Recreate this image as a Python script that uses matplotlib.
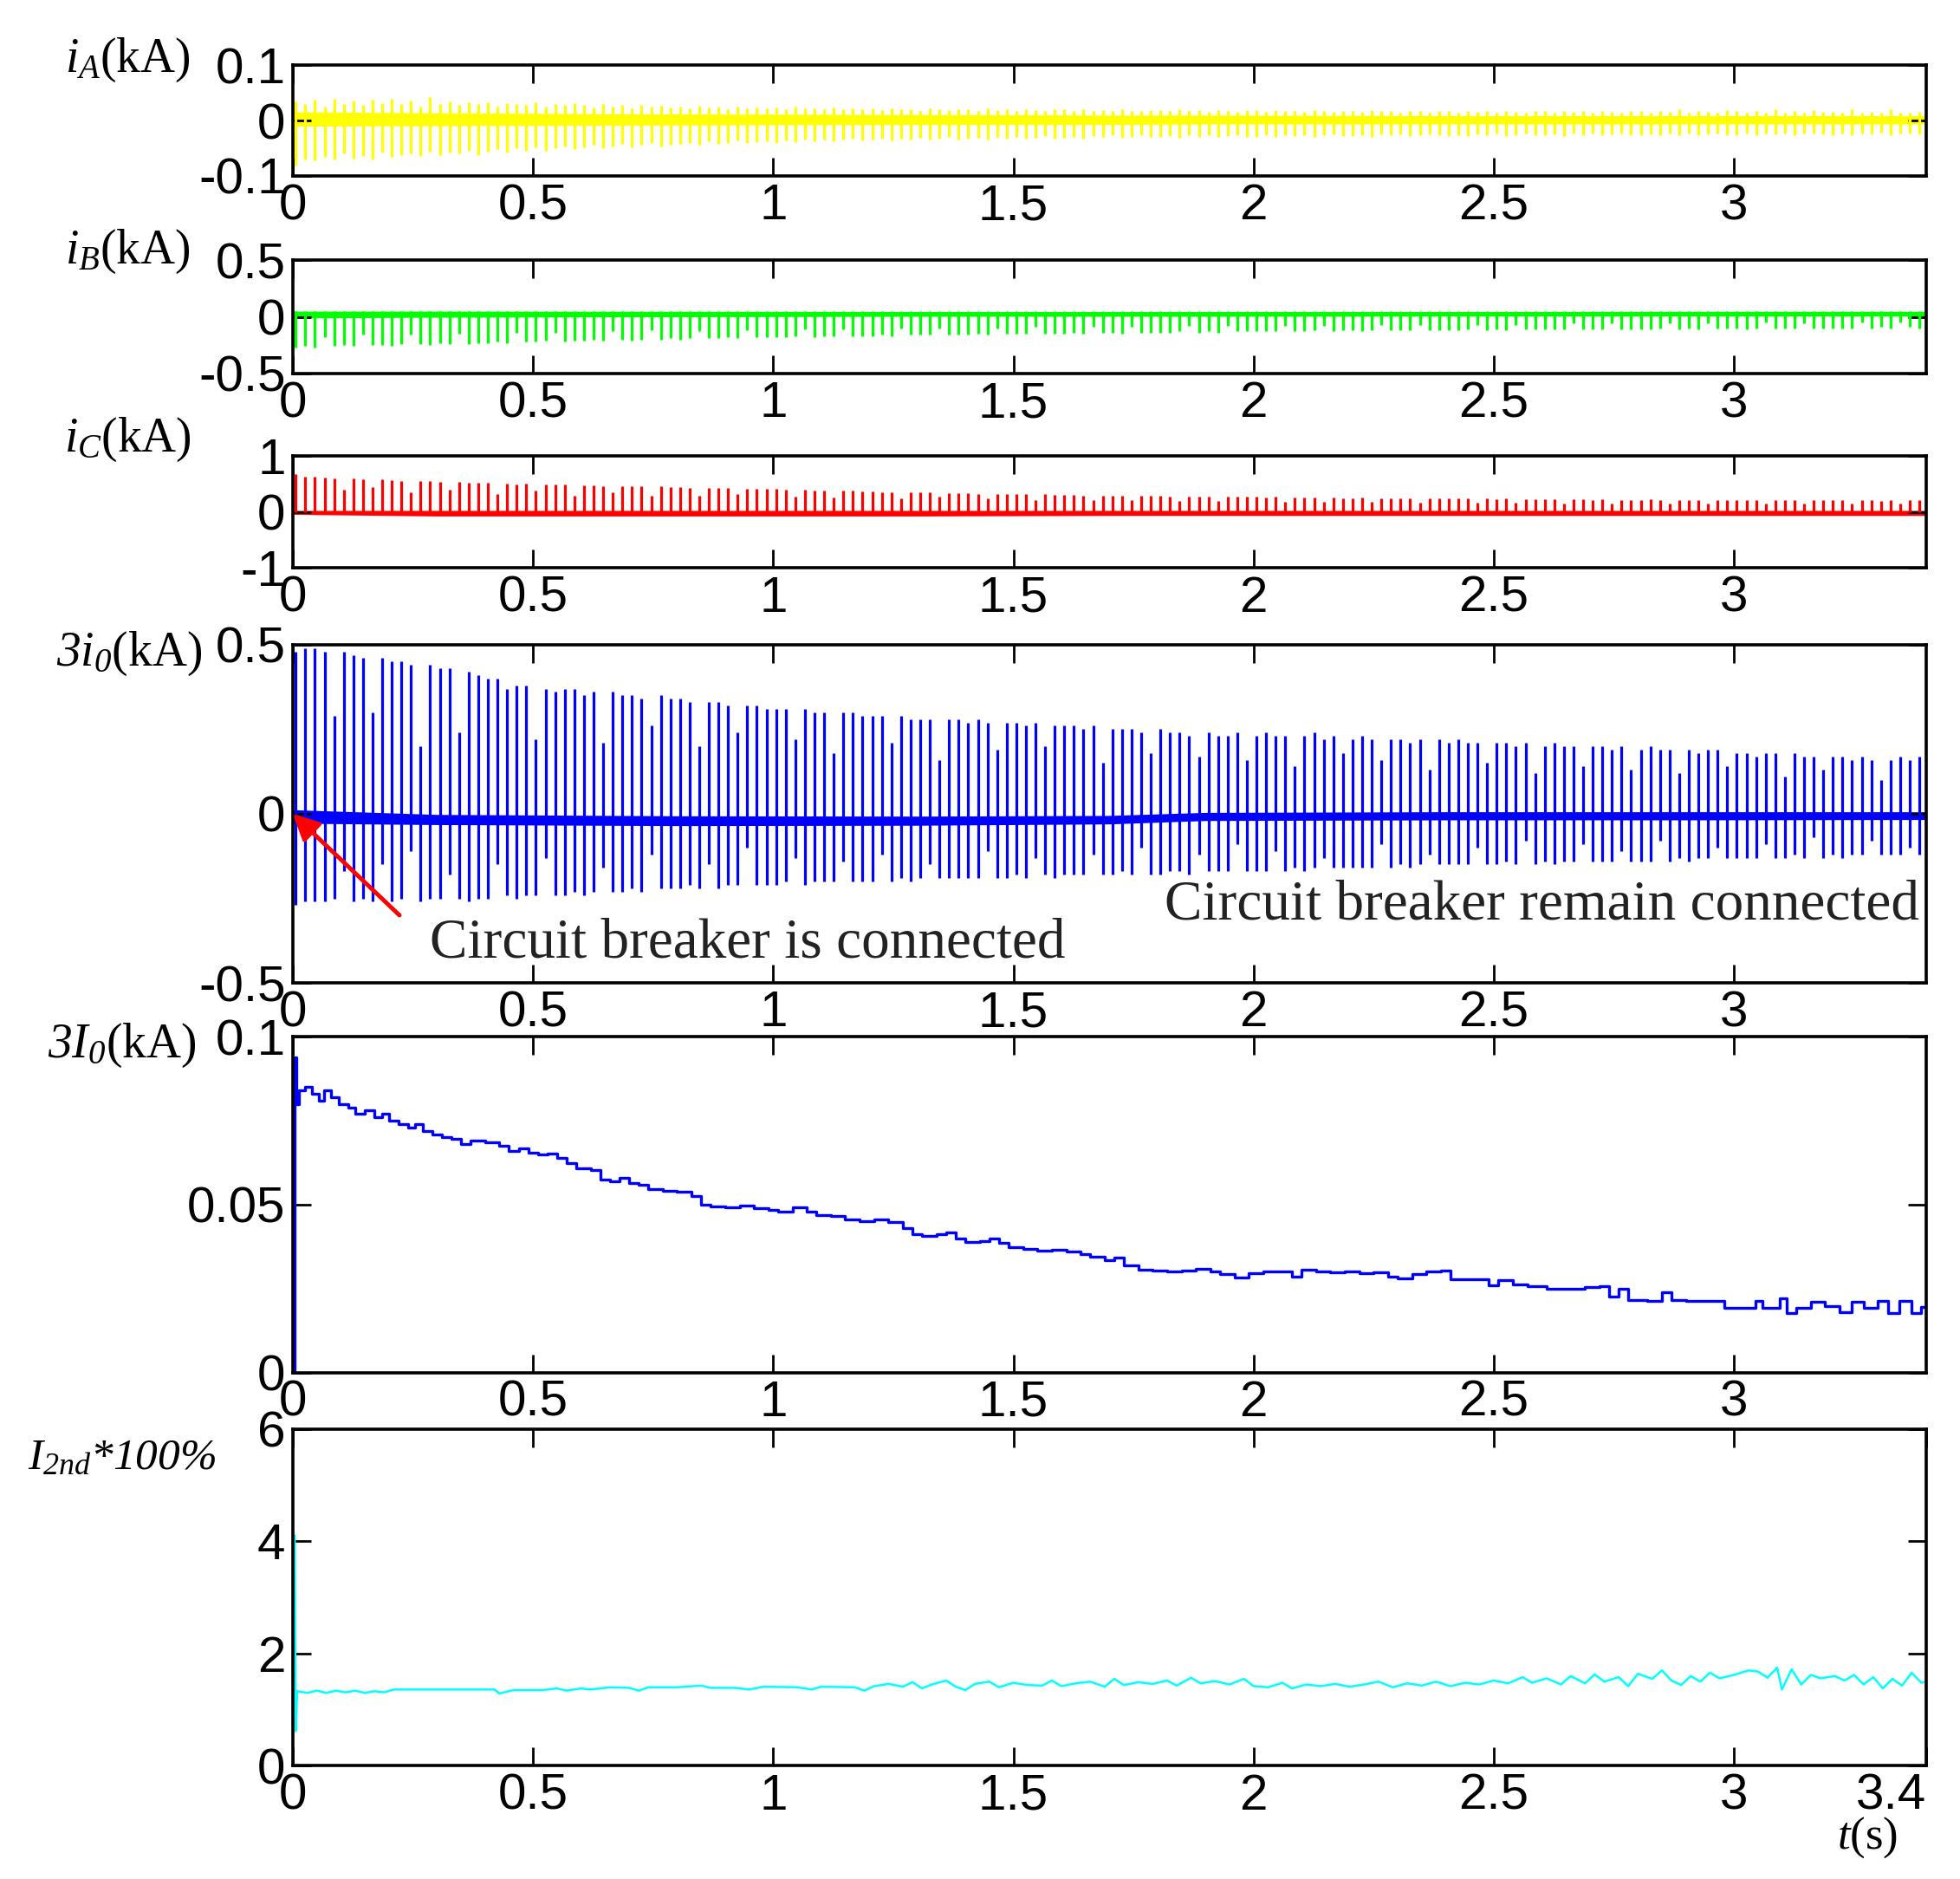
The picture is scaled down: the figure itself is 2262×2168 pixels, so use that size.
import numpy as np
import matplotlib
matplotlib.use("Agg")
import matplotlib.pyplot as plt

plt.rcParams['font.family'] = ['Liberation Sans', 'DejaVu Sans']
plt.rcParams['mathtext.fontset'] = 'custom'
plt.rcParams['mathtext.rm'] = 'Liberation Serif:italic'
plt.rcParams['mathtext.it'] = 'Liberation Serif:italic'
plt.rcParams['axes.unicode_minus'] = False

# one spike per 50 Hz cycle (170 cycles over 3.4 s)
n_cycles = 170
spike_t = 0.006 + 0.02 * np.arange(n_cycles)

# phase A current (kA): spike tops / bottoms per cycle
iA_hi = [0.035, 0.030, 0.038, 0.025, 0.040, 0.030, 0.036, 0.028, 0.038, 0.032,
         0.040, 0.030, 0.037, 0.026, 0.042, 0.030, 0.035, 0.028, 0.034, 0.030,
         0.033, 0.026, 0.032, 0.030, 0.028, 0.034, 0.025, 0.030, 0.028, 0.032,
         0.028, 0.024, 0.030, 0.026, 0.028, 0.022, 0.029, 0.025, 0.027, 0.024,
         0.026, 0.022, 0.027, 0.024, 0.025, 0.021, 0.026, 0.023, 0.024, 0.022,
         0.024, 0.021, 0.025, 0.022, 0.023, 0.020, 0.024, 0.021, 0.022, 0.020,
         0.022, 0.019, 0.023, 0.020, 0.021, 0.018, 0.022, 0.020, 0.019, 0.021,
         0.021, 0.018, 0.022, 0.019, 0.020, 0.018, 0.021, 0.019, 0.018, 0.020,
         0.020, 0.018, 0.021, 0.018, 0.019, 0.017, 0.020, 0.018, 0.017, 0.019,
         0.019, 0.017, 0.020, 0.018, 0.019, 0.016, 0.019, 0.018, 0.016, 0.019,
         0.019, 0.016, 0.019, 0.017, 0.018, 0.016, 0.019, 0.017, 0.016, 0.018,
         0.018, 0.016, 0.019, 0.017, 0.018, 0.015, 0.018, 0.017, 0.015, 0.018,
         0.018, 0.015, 0.018, 0.016, 0.017, 0.015, 0.018, 0.016, 0.015, 0.017,
         0.017, 0.015, 0.018, 0.016, 0.017, 0.015, 0.017, 0.016, 0.015, 0.017,
         0.017, 0.015, 0.017, 0.016, 0.020, 0.014, 0.017, 0.016, 0.015, 0.019,
         0.017, 0.014, 0.017, 0.015, 0.020, 0.014, 0.017, 0.015, 0.019, 0.016,
         0.016, 0.014, 0.021, 0.015, 0.016, 0.014, 0.020, 0.015, 0.014, 0.016]
iA_lo = [-0.082, -0.070, -0.072, -0.066, -0.070, -0.060, -0.068, -0.064, -0.070, -0.058,
         -0.066, -0.062, -0.060, -0.064, -0.056, -0.062, -0.058, -0.060, -0.054, -0.062,
         -0.056, -0.052, -0.058, -0.050, -0.054, -0.048, -0.055, -0.050, -0.046, -0.052,
         -0.048, -0.044, -0.050, -0.046, -0.042, -0.048, -0.044, -0.040, -0.046, -0.043,
         -0.042, -0.040, -0.044, -0.038, -0.042, -0.040, -0.036, -0.041, -0.039, -0.037,
         -0.040, -0.036, -0.039, -0.035, -0.038, -0.034, -0.037, -0.035, -0.033, -0.036,
         -0.035, -0.033, -0.036, -0.032, -0.034, -0.031, -0.035, -0.032, -0.030, -0.034,
         -0.033, -0.031, -0.034, -0.030, -0.032, -0.029, -0.033, -0.031, -0.028, -0.032,
         -0.031, -0.029, -0.032, -0.028, -0.030, -0.027, -0.031, -0.029, -0.027, -0.030,
         -0.030, -0.028, -0.031, -0.027, -0.029, -0.026, -0.030, -0.028, -0.026, -0.029,
         -0.029, -0.027, -0.030, -0.026, -0.028, -0.026, -0.029, -0.027, -0.025, -0.028,
         -0.028, -0.026, -0.029, -0.025, -0.027, -0.025, -0.028, -0.026, -0.025, -0.027,
         -0.028, -0.026, -0.028, -0.025, -0.027, -0.024, -0.028, -0.026, -0.024, -0.027,
         -0.027, -0.025, -0.028, -0.024, -0.026, -0.024, -0.027, -0.025, -0.024, -0.026,
         -0.027, -0.025, -0.027, -0.024, -0.026, -0.023, -0.027, -0.025, -0.023, -0.026,
         -0.026, -0.024, -0.027, -0.023, -0.025, -0.023, -0.026, -0.024, -0.023, -0.025,
         -0.026, -0.024, -0.026, -0.023, -0.025, -0.022, -0.026, -0.024, -0.023, -0.025]

# phase B current (kA): spike bottoms per cycle
iB_lo = [-0.27, -0.26, -0.27, -0.18, -0.26, -0.25, -0.26, -0.16, -0.25, -0.25,
         -0.26, -0.24, -0.16, -0.24, -0.25, -0.23, -0.24, -0.15, -0.24, -0.23,
         -0.23, -0.22, -0.23, -0.14, -0.22, -0.22, -0.21, -0.14, -0.22, -0.21,
         -0.21, -0.20, -0.21, -0.13, -0.20, -0.21, -0.20, -0.12, -0.20, -0.19,
         -0.20, -0.19, -0.13, -0.19, -0.19, -0.18, -0.19, -0.12, -0.18, -0.18,
         -0.18, -0.18, -0.17, -0.11, -0.18, -0.17, -0.17, -0.11, -0.17, -0.17,
         -0.17, -0.16, -0.17, -0.10, -0.16, -0.16, -0.16, -0.10, -0.16, -0.16,
         -0.16, -0.15, -0.16, -0.10, -0.15, -0.15, -0.15, -0.09, -0.15, -0.15,
         -0.15, -0.14, -0.15, -0.09, -0.14, -0.14, -0.15, -0.09, -0.14, -0.14,
         -0.14, -0.14, -0.13, -0.08, -0.14, -0.13, -0.14, -0.08, -0.13, -0.13,
         -0.13, -0.13, -0.13, -0.08, -0.13, -0.13, -0.12, -0.08, -0.13, -0.12,
         -0.12, -0.13, -0.12, -0.07, -0.12, -0.12, -0.12, -0.07, -0.12, -0.12,
         -0.12, -0.12, -0.11, -0.07, -0.12, -0.11, -0.12, -0.07, -0.11, -0.11,
         -0.11, -0.11, -0.11, -0.06, -0.11, -0.11, -0.11, -0.06, -0.11, -0.11,
         -0.11, -0.11, -0.10, -0.06, -0.11, -0.10, -0.11, -0.06, -0.10, -0.10,
         -0.10, -0.11, -0.10, -0.05, -0.10, -0.10, -0.10, -0.06, -0.10, -0.10,
         -0.10, -0.10, -0.10, -0.05, -0.10, -0.09, -0.10, -0.05, -0.09, -0.10]

# phase C current (kA): spike tops per cycle
iC_hi = [0.68, 0.63, 0.64, 0.62, 0.60, 0.40, 0.60, 0.58, 0.45, 0.58,
         0.57, 0.56, 0.35, 0.56, 0.55, 0.54, 0.40, 0.54, 0.53, 0.52,
         0.52, 0.33, 0.51, 0.50, 0.51, 0.38, 0.50, 0.49, 0.49, 0.30,
         0.48, 0.48, 0.47, 0.36, 0.47, 0.46, 0.46, 0.30, 0.46, 0.45,
         0.45, 0.44, 0.30, 0.44, 0.43, 0.43, 0.33, 0.42, 0.42, 0.41,
         0.41, 0.40, 0.28, 0.40, 0.39, 0.39, 0.26, 0.38, 0.38, 0.37,
         0.37, 0.36, 0.36, 0.25, 0.36, 0.35, 0.35, 0.27, 0.34, 0.34,
         0.34, 0.33, 0.24, 0.33, 0.33, 0.32, 0.32, 0.22, 0.32, 0.31,
         0.31, 0.31, 0.30, 0.22, 0.30, 0.30, 0.29, 0.21, 0.29, 0.29,
         0.29, 0.28, 0.20, 0.28, 0.28, 0.27, 0.20, 0.27, 0.27, 0.27,
         0.27, 0.26, 0.27, 0.19, 0.26, 0.26, 0.26, 0.18, 0.26, 0.25,
         0.25, 0.26, 0.18, 0.25, 0.25, 0.24, 0.25, 0.17, 0.24, 0.24,
         0.24, 0.24, 0.24, 0.17, 0.24, 0.23, 0.24, 0.17, 0.23, 0.23,
         0.23, 0.23, 0.16, 0.23, 0.23, 0.22, 0.23, 0.16, 0.22, 0.22,
         0.22, 0.23, 0.22, 0.15, 0.22, 0.22, 0.22, 0.16, 0.22, 0.21,
         0.22, 0.21, 0.22, 0.15, 0.21, 0.22, 0.21, 0.15, 0.21, 0.21,
         0.21, 0.21, 0.15, 0.21, 0.21, 0.20, 0.21, 0.15, 0.21, 0.21]

# zero-sequence current 3i0 (kA): spike tops / bottoms per cycle
i0_hi = [0.48, 0.49, 0.49, 0.48, 0.29, 0.48, 0.47, 0.46, 0.30, 0.46,
         0.45, 0.45, 0.44, 0.20, 0.44, 0.43, 0.43, 0.24, 0.42, 0.41,
         0.40, 0.40, 0.37, 0.38, 0.38, 0.22, 0.37, 0.36, 0.37, 0.37,
         0.35, 0.36, 0.21, 0.36, 0.35, 0.35, 0.34, 0.26, 0.35, 0.34,
         0.34, 0.33, 0.20, 0.33, 0.33, 0.32, 0.24, 0.32, 0.32, 0.31,
         0.31, 0.31, 0.22, 0.31, 0.30, 0.30, 0.18, 0.30, 0.30, 0.29,
         0.29, 0.29, 0.21, 0.29, 0.28, 0.28, 0.28, 0.16, 0.28, 0.28,
         0.27, 0.28, 0.27, 0.19, 0.27, 0.27, 0.26, 0.27, 0.20, 0.26,
         0.26, 0.26, 0.25, 0.26, 0.15, 0.25, 0.25, 0.25, 0.24, 0.18,
         0.25, 0.24, 0.24, 0.23, 0.17, 0.24, 0.23, 0.23, 0.24, 0.16,
         0.23, 0.24, 0.23, 0.23, 0.14, 0.23, 0.24, 0.22, 0.23, 0.18,
         0.22, 0.23, 0.22, 0.16, 0.22, 0.22, 0.21, 0.22, 0.13, 0.22,
         0.21, 0.22, 0.21, 0.21, 0.15, 0.21, 0.21, 0.20, 0.21, 0.12,
         0.20, 0.21, 0.20, 0.20, 0.14, 0.20, 0.20, 0.19, 0.20, 0.13,
         0.19, 0.20, 0.19, 0.19, 0.12, 0.19, 0.18, 0.19, 0.19, 0.14,
         0.18, 0.18, 0.17, 0.18, 0.18, 0.11, 0.18, 0.17, 0.17, 0.13,
         0.17, 0.17, 0.16, 0.17, 0.16, 0.10, 0.16, 0.17, 0.16, 0.17]
i0_lo = [-0.27, -0.26, -0.26, -0.26, -0.25, -0.17, -0.26, -0.25, -0.26, -0.15,
         -0.26, -0.25, -0.11, -0.26, -0.25, -0.25, -0.18, -0.25, -0.26, -0.25,
         -0.25, -0.15, -0.24, -0.25, -0.24, -0.24, -0.13, -0.24, -0.24, -0.23,
         -0.24, -0.23, -0.16, -0.23, -0.23, -0.22, -0.23, -0.12, -0.22, -0.22,
         -0.22, -0.21, -0.22, -0.15, -0.22, -0.21, -0.21, -0.10, -0.21, -0.21,
         -0.21, -0.20, -0.13, -0.21, -0.20, -0.20, -0.20, -0.14, -0.20, -0.20,
         -0.20, -0.12, -0.20, -0.19, -0.20, -0.19, -0.15, -0.19, -0.19, -0.19,
         -0.19, -0.19, -0.11, -0.19, -0.19, -0.18, -0.19, -0.13, -0.18, -0.19,
         -0.18, -0.18, -0.18, -0.12, -0.18, -0.18, -0.17, -0.18, -0.10, -0.18,
         -0.18, -0.17, -0.17, -0.18, -0.12, -0.17, -0.17, -0.17, -0.09, -0.17,
         -0.17, -0.17, -0.11, -0.17, -0.16, -0.17, -0.16, -0.13, -0.16, -0.16,
         -0.16, -0.16, -0.16, -0.09, -0.16, -0.15, -0.16, -0.15, -0.12, -0.15,
         -0.15, -0.15, -0.15, -0.10, -0.15, -0.15, -0.14, -0.15, -0.08, -0.15,
         -0.14, -0.15, -0.14, -0.14, -0.09, -0.14, -0.14, -0.14, -0.11, -0.14,
         -0.14, -0.14, -0.08, -0.14, -0.13, -0.14, -0.13, -0.13, -0.10, -0.13,
         -0.13, -0.13, -0.13, -0.09, -0.13, -0.13, -0.12, -0.13, -0.07, -0.13,
         -0.12, -0.13, -0.12, -0.12, -0.08, -0.12, -0.12, -0.12, -0.10, -0.12]

# thick baseline band of each waveform
band_t = [0.0, 0.3, 0.8, 1.3, 1.7, 1.9, 2.4, 2.9, 3.4]
iA_band_hi = [0.016, 0.014, 0.012, 0.011, 0.010, 0.010, 0.009, 0.009, 0.009]
iA_band_lo = [-0.010, -0.009, -0.008, -0.007, -0.007, -0.006, -0.006, -0.006, -0.006]
iB_band_hi = [0.050, 0.050, 0.048, 0.046, 0.046, 0.046, 0.046, 0.048, 0.048]
iB_band_lo = [-0.010, -0.004, 0.000, 0.004, 0.004, 0.004, 0.006, 0.006, 0.006]
iC_band_hi = [0.03, 0.03, 0.03, 0.03, 0.03, 0.03, 0.03, 0.03, 0.03]
iC_band_lo = [-0.04, -0.07, -0.07, -0.07, -0.06, -0.06, -0.06, -0.06, -0.06]
i0_band_hi = [0.012, -0.002, -0.006, -0.007, -0.005, 0.004, 0.006, 0.006, 0.006]
i0_band_lo = [-0.028, -0.032, -0.035, -0.034, -0.030, -0.020, -0.018, -0.018, -0.017]

# fundamental magnitude 3I0 (kA), step trace
I0_t = [0.000, 0.004, 0.007, 0.012, 0.025, 0.040, 0.055, 0.065, 0.080, 0.095,
        0.115, 0.130, 0.150, 0.170, 0.185, 0.200, 0.220, 0.240, 0.255, 0.270,
        0.290, 0.310, 0.330, 0.350, 0.370, 0.400, 0.430, 0.450, 0.470, 0.490,
        0.510, 0.530, 0.550, 0.570, 0.590, 0.620, 0.640, 0.660, 0.680, 0.700,
        0.720, 0.740, 0.770, 0.800, 0.830, 0.850, 0.870, 0.900, 0.930, 0.960,
        0.990, 1.010, 1.040, 1.070, 1.090, 1.120, 1.150, 1.180, 1.210, 1.240,
        1.270, 1.290, 1.310, 1.340, 1.360, 1.380, 1.400, 1.430, 1.450, 1.470,
        1.490, 1.520, 1.550, 1.580, 1.610, 1.640, 1.660, 1.690, 1.710, 1.730,
        1.760, 1.790, 1.820, 1.850, 1.880, 1.910, 1.930, 1.960, 1.990, 2.020,
        2.050, 2.080, 2.100, 2.130, 2.160, 2.190, 2.220, 2.250, 2.280, 2.300,
        2.330, 2.360, 2.390, 2.410, 2.450, 2.490, 2.510, 2.540, 2.570, 2.610,
        2.650, 2.690, 2.720, 2.740, 2.760, 2.780, 2.820, 2.850, 2.870, 2.900,
        2.950, 2.980, 3.030, 3.045, 3.060, 3.095, 3.110, 3.130, 3.160, 3.190,
        3.220, 3.245, 3.270, 3.300, 3.320, 3.345, 3.370, 3.390, 3.400]
I0_val = [0.000, 0.094, 0.080, 0.084, 0.085, 0.083, 0.081, 0.084, 0.082, 0.080,
          0.079, 0.077, 0.078, 0.076, 0.077, 0.075, 0.074, 0.073, 0.074, 0.072,
          0.071, 0.070, 0.0695, 0.068, 0.069, 0.0685, 0.0675, 0.066, 0.0668, 0.0655,
          0.0650, 0.0652, 0.0638, 0.0625, 0.0608, 0.0603, 0.0575, 0.0570, 0.0580, 0.0565,
          0.0560, 0.0545, 0.0540, 0.0538, 0.0525, 0.0500, 0.0495, 0.0492, 0.0498, 0.0490,
          0.0485, 0.0480, 0.0492, 0.0478, 0.0470, 0.0465, 0.0455, 0.0450, 0.0455, 0.0448,
          0.0430, 0.0412, 0.0408, 0.0412, 0.0418, 0.0400, 0.0389, 0.0390, 0.0398, 0.0385,
          0.0372, 0.0368, 0.0362, 0.0366, 0.0360, 0.0352, 0.0345, 0.0335, 0.0342, 0.0320,
          0.0306, 0.0303, 0.0300, 0.0303, 0.0308, 0.0300, 0.0292, 0.0284, 0.0296, 0.0302,
          0.0300, 0.0286, 0.0306, 0.0300, 0.0298, 0.0302, 0.0295, 0.0298, 0.0285, 0.0280,
          0.0292, 0.0300, 0.0303, 0.0278, 0.0277, 0.0260, 0.0274, 0.0262, 0.0258, 0.0250,
          0.0250, 0.0255, 0.0258, 0.0225, 0.0248, 0.0215, 0.0212, 0.0240, 0.0216, 0.0212,
          0.0212, 0.0193, 0.0192, 0.0212, 0.0193, 0.0220, 0.0176, 0.0192, 0.0210, 0.0197,
          0.0180, 0.0210, 0.0193, 0.0214, 0.0176, 0.0212, 0.0176, 0.0195, 0.0195]

# second harmonic ratio I2nd*100%
I2_t = [0.004, 0.006, 0.009, 0.03, 0.05, 0.07, 0.09, 0.11, 0.13, 0.15,
        0.17, 0.19, 0.21, 0.30, 0.42, 0.43, 0.46, 0.52, 0.55, 0.57,
        0.60, 0.62, 0.66, 0.70, 0.72, 0.74, 0.80, 0.85, 0.87, 0.92,
        0.95, 0.98, 1.05, 1.08, 1.10, 1.17, 1.19, 1.21, 1.24, 1.27,
        1.29, 1.31, 1.33, 1.36, 1.38, 1.40, 1.42, 1.45, 1.47, 1.50,
        1.53, 1.56, 1.58, 1.60, 1.63, 1.66, 1.69, 1.71, 1.73, 1.76,
        1.79, 1.82, 1.84, 1.87, 1.89, 1.92, 1.95, 1.98, 2.00, 2.03,
        2.06, 2.08, 2.11, 2.14, 2.17, 2.20, 2.23, 2.26, 2.29, 2.32,
        2.35, 2.38, 2.41, 2.44, 2.47, 2.50, 2.53, 2.56, 2.58, 2.61,
        2.64, 2.66, 2.69, 2.71, 2.73, 2.76, 2.78, 2.80, 2.83, 2.85,
        2.87, 2.89, 2.91, 2.93, 2.95, 2.97, 3.00, 3.03, 3.05, 3.07,
        3.09, 3.10, 3.12, 3.14, 3.16, 3.18, 3.21, 3.23, 3.25, 3.27,
        3.29, 3.31, 3.33, 3.35, 3.37, 3.39, 3.40]
I2_val = [4.10, 0.62, 1.33, 1.30, 1.34, 1.30, 1.34, 1.31, 1.34, 1.30,
          1.33, 1.31, 1.36, 1.36, 1.36, 1.29, 1.35, 1.35, 1.38, 1.34,
          1.38, 1.36, 1.40, 1.39, 1.34, 1.40, 1.40, 1.43, 1.39, 1.39,
          1.36, 1.41, 1.40, 1.36, 1.41, 1.40, 1.34, 1.42, 1.46, 1.41,
          1.49, 1.38, 1.45, 1.52, 1.41, 1.35, 1.46, 1.50, 1.40, 1.48,
          1.44, 1.43, 1.52, 1.42, 1.47, 1.50, 1.41, 1.55, 1.44, 1.49,
          1.46, 1.52, 1.43, 1.57, 1.47, 1.51, 1.45, 1.55, 1.42, 1.40,
          1.48, 1.38, 1.45, 1.42, 1.46, 1.41, 1.45, 1.50, 1.40, 1.47,
          1.43, 1.50, 1.42, 1.48, 1.45, 1.52, 1.47, 1.58, 1.48, 1.56,
          1.45, 1.60, 1.47, 1.63, 1.50, 1.58, 1.42, 1.64, 1.55, 1.70,
          1.52, 1.44, 1.60, 1.50, 1.66, 1.56, 1.62, 1.70, 1.68, 1.57,
          1.75, 1.36, 1.72, 1.45, 1.62, 1.56, 1.60, 1.52, 1.62, 1.45,
          1.58, 1.38, 1.55, 1.43, 1.66, 1.48, 1.50]

x_ticks = [0, 0.5, 1, 1.5, 2, 2.5, 3]
x_labels = ['0', '0.5', '1', '1.5', '2', '2.5', '3']

fig = plt.figure(figsize=(22.62, 21.68), dpi=100)
left, width = 0.1494, 0.8333
boxes = [(0.9064, 0.0588), (0.8013, 0.0602), (0.6977, 0.0595),
         (0.4769, 0.1800), (0.2696, 0.1786), (0.0602, 0.1793)]
axes = [fig.add_axes([left, b, width, h]) for b, h in boxes]


def style(ax, yticks, ylim):
    ax.set_xlim(0, 3.4)
    ax.set_ylim(*ylim)
    ax.set_yticks(yticks)
    ax.set_yticklabels([('%g' % v) for v in yticks])
    ax.set_xticks(x_ticks)
    ax.set_xticklabels(x_labels)
    ax.tick_params(direction='in', top=True, right=True, length=15, width=2,
                   labelsize=42, pad=6)
    for sp in ax.spines.values():
        sp.set_linewidth(2.6)


def waveform(ax, lo, hi, blo, bhi, color):
    ax.fill_between(band_t, blo, bhi, color=color, lw=0)
    ax.vlines(spike_t, lo, hi, color=color, lw=2.3)


ax1, ax2, ax3, ax4, ax5, ax6 = axes
waveform(ax1, iA_lo, iA_hi, iA_band_lo, iA_band_hi, '#ffff00')
style(ax1, [-0.1, 0, 0.1], (-0.1, 0.1))

waveform(ax2, iB_lo, np.full(n_cycles, iB_band_hi[0]),
         iB_band_lo, iB_band_hi, '#00ff00')
style(ax2, [-0.5, 0, 0.5], (-0.5, 0.5))

waveform(ax3, np.zeros(n_cycles), iC_hi, iC_band_lo, iC_band_hi, '#ff0000')
style(ax3, [-1, 0, 1], (-1, 1))

waveform(ax4, i0_lo, i0_hi, i0_band_lo, i0_band_hi, '#0000ff')
style(ax4, [-0.5, 0, 0.5], (-0.5, 0.5))
ax4.annotate('', xy=(0.0, 0.0), xytext=(0.222, -0.30),
             arrowprops=dict(arrowstyle='-|>', color='red', lw=3.5,
                             mutation_scale=45, shrinkA=0, shrinkB=0))
ax4.text(0.285, -0.383, 'Circuit breaker is connected', fontsize=47,
         family='Liberation Serif', color='#222222', va='center', ha='left')
ax4.text(3.385, -0.27, 'Circuit breaker remain connected', fontsize=47,
         family='Liberation Serif', color='#222222', va='center', ha='right')

ax5.plot(I0_t, I0_val, color='#0000ff', lw=2.4, drawstyle='steps-post')
style(ax5, [0, 0.05, 0.1], (0, 0.1))

ax6.plot(I2_t, I2_val, color='#00ffff', lw=1.8)
style(ax6, [0, 2, 4, 6], (0, 6))
ax6.set_xticks(x_ticks + [3.4])
ax6.set_xticklabels(x_labels + ['3.4'])
ax6.get_xticklabels()[-1].set_horizontalalignment('right')

lab = dict(fontsize=40, family='Liberation Serif', ha='center', va='center')
fig.text(0.065, 0.968, r'$i_{A}$(kA)', **lab)
fig.text(0.065, 0.866, r'$i_{B}$(kA)', **lab)
fig.text(0.065, 0.766, r'$i_{C}$(kA)', **lab)
fig.text(0.066, 0.652, r'$3i_{0}$(kA)', **lab)
fig.text(0.062, 0.4435, r'$3I_{0}$(kA)', **lab)
fig.text(0.062, 0.224, r'$I_{2nd}$*100%', style='italic', fontsize=37,
         family='Liberation Serif', ha='center', va='center')
fig.text(0.9526, 0.022, r'$t$(s)', fontsize=38, family='Liberation Serif',
         ha='center', va='center')

fig.savefig('out.png', dpi=100)
